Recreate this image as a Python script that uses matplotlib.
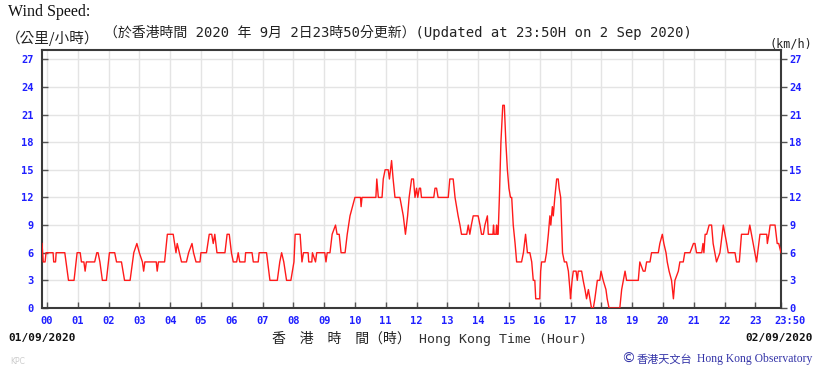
import matplotlib
matplotlib.use("Agg")
import matplotlib.pyplot as plt
from matplotlib.transforms import ScaledTranslation

# ---- data: wind speed (km/h) vs Hong Kong time (decimal hours from 00:00 on 01/09/2020)
times = [-0.16, -0.12, -0.06, -0.03, 0.20, 0.22, 0.28, 0.30, 0.58, 0.70, 0.88, 0.98,
         1.08, 1.12, 1.20, 1.24, 1.28, 1.45, 1.55, 1.62, 1.66, 1.72, 1.80, 1.93,
         2.03, 2.20, 2.26, 2.42, 2.52, 2.70, 2.82, 2.92, 3.00, 3.10, 3.14, 3.18,
         3.55, 3.58, 3.62, 3.82, 3.91, 4.10, 4.19, 4.23, 4.30, 4.37, 4.53, 4.60,
         4.71, 4.76, 4.84, 4.97, 5.00, 5.18, 5.27, 5.35, 5.40, 5.45, 5.52, 5.78,
         5.85, 5.92, 5.99, 6.05, 6.16, 6.21, 6.26, 6.43, 6.45, 6.66, 6.70, 6.86,
         6.89, 7.13, 7.24, 7.48, 7.56, 7.62, 7.69, 7.78, 7.92, 8.02, 8.06, 8.22,
         8.28, 8.33, 8.48, 8.50, 8.60, 8.62, 8.72, 8.76, 9.02, 9.06, 9.10, 9.19,
         9.26, 9.37, 9.42, 9.49, 9.55, 9.68, 9.75, 9.84, 9.92, 10.00, 10.18, 10.20,
         10.23, 10.68, 10.71, 10.76, 10.88, 10.92, 10.98, 11.08, 11.12, 11.19, 11.24, 11.30,
         11.46, 11.57, 11.64, 11.71, 11.76, 11.84, 11.90, 11.95, 12.00, 12.04, 12.09, 12.13,
         12.16, 12.56, 12.60, 12.65, 12.70, 13.03, 13.08, 13.19, 13.25, 13.35, 13.41, 13.46,
         13.63, 13.68, 13.73, 13.78, 13.84, 14.00, 14.06, 14.11, 14.17, 14.22, 14.30, 14.33,
         14.48, 14.50, 14.52, 14.58, 14.60, 14.62, 14.65, 14.69, 14.74, 14.80, 14.85, 14.90,
         14.95, 15.00, 15.05, 15.09, 15.14, 15.20, 15.25, 15.41, 15.47, 15.54, 15.60, 15.68,
         15.74, 15.79, 15.84, 15.87, 16.00, 16.03, 16.06, 16.17, 16.22, 16.28, 16.33, 16.36,
         16.41, 16.44, 16.49, 16.55, 16.60, 16.63, 16.68, 16.71, 16.74, 16.80, 16.87, 16.93,
         16.98, 17.00, 17.05, 17.09, 17.18, 17.22, 17.25, 17.36, 17.41, 17.47, 17.52, 17.58,
         17.63, 17.68, 17.74, 17.79, 17.87, 17.95, 17.99, 18.06, 18.15, 18.19, 18.25, 18.60,
         18.66, 18.77, 18.82, 19.20, 19.25, 19.36, 19.42, 19.47, 19.52, 19.58, 19.63, 19.85,
         19.90, 19.98, 20.03, 20.10, 20.14, 20.20, 20.28, 20.34, 20.39, 20.50, 20.55, 20.66,
         20.71, 20.88, 20.99, 21.04, 21.09, 21.26, 21.30, 21.33, 21.37, 21.42, 21.50, 21.58,
         21.63, 21.74, 21.85, 21.96, 22.07, 22.12, 22.34, 22.39, 22.48, 22.55, 22.77, 22.82,
         22.93, 23.04, 23.15, 23.37, 23.39, 23.44, 23.48, 23.64, 23.71, 23.76, 23.833]
speeds = [7, 5, 5, 6, 6, 5, 5, 6, 6, 3, 3, 6,
          6, 5, 5, 4, 5, 5, 5, 6, 6, 5, 3, 3,
          6, 6, 5, 5, 3, 3, 6, 7, 6, 5, 4, 5,
          5, 4, 5, 5, 8, 8, 6, 7, 6, 5, 5, 6,
          7, 6, 5, 5, 6, 6, 8, 8, 7, 8, 6, 6,
          8, 8, 6, 5, 5, 6, 5, 5, 6, 6, 5, 5,
          6, 6, 3, 3, 5, 6, 5, 3, 3, 5, 8, 8,
          5, 6, 6, 5, 5, 6, 5, 6, 6, 5, 6, 6,
          8, 9, 8, 8, 6, 6, 8, 10, 11, 12, 12, 11,
          12, 12, 14, 12, 12, 14, 15, 15, 14, 16, 14, 12,
          12, 10, 8, 10, 12, 14, 14, 12, 13, 12, 13, 13,
          12, 12, 13, 13, 12, 12, 14, 14, 12, 10, 9, 8,
          8, 9, 8, 9, 10, 10, 9, 8, 8, 9, 10, 8,
          8, 9, 8, 8, 9, 8, 8, 12, 18, 22, 22, 18,
          15, 13, 12, 12, 9, 7, 5, 5, 6, 8, 6, 6,
          5, 3, 3, 1, 1, 4, 5, 5, 6, 8, 10, 9,
          11, 10, 12, 14, 14, 13, 12, 9, 6, 5, 5, 4,
          2, 1, 3, 4, 4, 3, 4, 4, 3, 2, 1, 2,
          1, 0, 0, 1, 3, 3, 4, 3, 2, 1, 0, 0,
          2, 4, 3, 3, 5, 4, 4, 5, 5, 5, 6, 6,
          7, 8, 7, 6, 5, 4, 3, 1, 3, 4, 5, 5,
          6, 6, 7, 7, 6, 6, 7, 6, 8, 8, 9, 9,
          7, 5, 6, 9, 7, 6, 6, 5, 5, 8, 8, 9,
          7, 5, 8, 8, 7, 8, 9, 9, 7, 7, 6]

hour_ticks = list(range(24)) + [23 + 50 / 60]
hour_labels = [f"{h:02d}" for h in range(24)] + ["23:50"]
speed_ticks = list(range(0, 28, 3))

W, H = 820, 370
fig = plt.figure(figsize=(W / 100, H / 100), dpi=100)
ax = fig.add_axes([42 / W, 1 - 308 / H, (781 - 42) / W, (308 - 50) / H])

ax.plot(times, speeds, color="#ff1a1a", lw=1.0, zorder=3)

ax.set_xlim(-0.16, 23 + 50 / 60)
ax.set_ylim(0, 28)
ax.set_xticks(hour_ticks)
ax.set_xticklabels(hour_labels)
ax.set_yticks(speed_ticks)
ax.grid(True, color="#e4e4e4", lw=1.0, zorder=0)
ax.set_axisbelow(True)

blue = "#1f1fff"
ax.tick_params(axis="x", direction="in", length=4, width=1, color="#555555",
               labelcolor=blue, pad=6)
ax.tick_params(axis="y", direction="in", length=4, width=1, color="#555555",
               labelcolor=blue, pad=6, right=True, labelright=True)
for lab in ax.get_xticklabels() + ax.get_yticklabels():
    lab.set_fontfamily("DejaVu Sans Mono")
    lab.set_fontweight("bold")
    lab.set_fontsize(7.5)
for t in ax.yaxis.get_major_ticks():
    t.label2.set_fontfamily("DejaVu Sans Mono")
    t.label2.set_fontweight("bold")
    t.label2.set_fontsize(7.5)
    t.label2.set_color(blue)
    t.tick2line.set_marker(matplotlib.lines.TICKRIGHT)

last = ax.get_xticklabels()[-1]
last.set_transform(last.get_transform() + ScaledTranslation(9 / 100, 0, fig.dpi_scale_trans))

for s in ax.spines.values():
    s.set_color("#3a3a3a")
    s.set_linewidth(1.5)

def px(x, y):
    return x / W, 1 - y / H

cjk = ["DejaVu Sans Mono", "Noto Sans CJK TC"]

fig.text(*px(8, 4), "Wind Speed:", family="Liberation Serif", size=11.5,
         va="top", ha="left", color="#111111")
fig.text(*px(6, 38), "（公里/小時）", family=["Noto Sans CJK TC"], size=10.5,
         va="center", ha="left", color="#222222")
fig.text(*px(104, 32),
         "（於香港時間 2020 年 9月 2日23時50分更新）(Updated at 23:50H on 2 Sep 2020)",
         family=cjk, size=10, va="center", ha="left", color="#222222")
fig.text(*px(770, 44), "(km/h)", family="DejaVu Sans Mono", size=8.5,
         va="center", ha="left", color="#222222")

fig.text(*px(8, 338), "01/09/2020", family="DejaVu Sans Mono", weight="bold",
         size=8, va="center", ha="left", color="#111111")
fig.text(*px(813, 338), "02/09/2020", family="DejaVu Sans Mono", weight="bold",
         size=8, va="center", ha="right", color="#111111")
fig.text(*px(272, 339), "香　港　時　間（時）", family=["Noto Sans CJK TC"], size=10,
         va="center", ha="left", color="#222222")
fig.text(*px(419, 339), "Hong Kong Time (Hour)", family="DejaVu Sans Mono",
         size=9.5, va="center", ha="left", color="#333333")

fig.text(*px(10, 362), "KPC", family="DejaVu Sans", size=5.5,
         va="center", ha="left", color="#cccccc")
fig.text(*px(621, 359), "©", family="DejaVu Sans", size=10,
         va="center", ha="left", color="#3434a8")
fig.text(*px(637, 359), "香港天文台", family=["Noto Sans CJK TC"], size=8,
         va="center", ha="left", color="#3434a8")
fig.text(*px(697, 359), "Hong Kong Observatory", family="Liberation Serif", size=8.4,
         va="center", ha="left", color="#3434a8")

fig.savefig("out.png", dpi=100)
